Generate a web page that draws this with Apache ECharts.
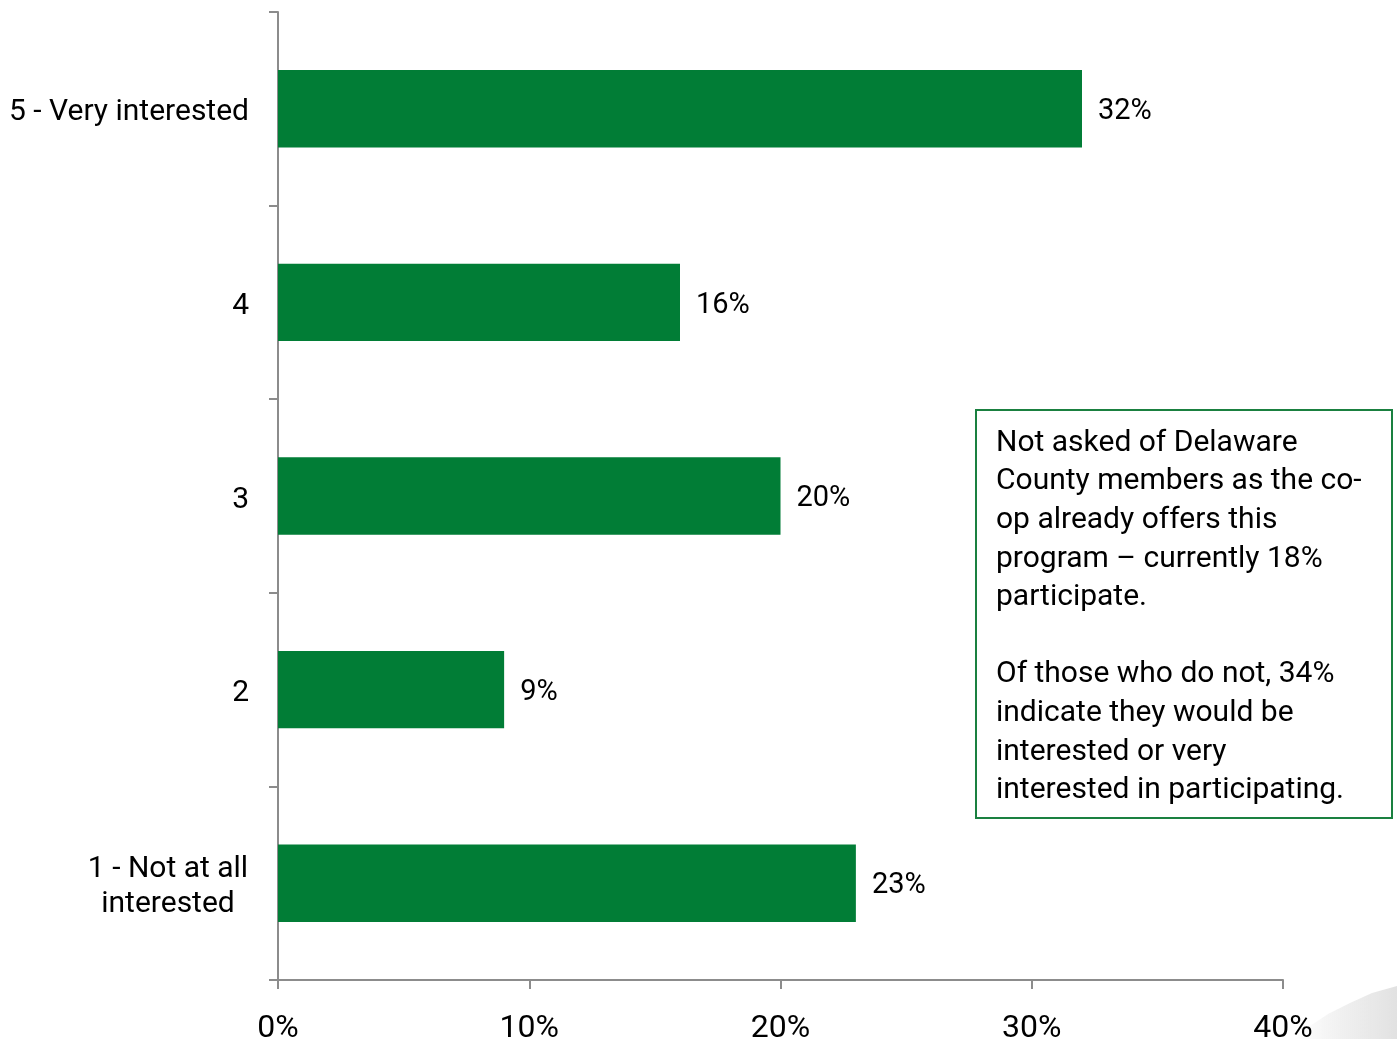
<!DOCTYPE html>
<html><head><meta charset="utf-8">
<script src="https://cdn.jsdelivr.net/npm/echarts@6/dist/echarts.min.js"></script>
<style>html,body{margin:0;padding:0;background:#fff}#c{width:1397px;height:1039px}</style>
</head><body><div id="c"></div>
<script>
const categories = ['1 - Not at all\ninterested', '2', '3', '4', '5 - Very interested'];
const values = [23, 9, 20, 16, 32];
const xTicks = [0, 10, 20, 30, 40];
const noteText = 'Not asked of Delaware\nCounty members as the co-\nop already offers this\nprogram \u2013 currently 18%\nparticipate.\n\nOf those who do not, 34%\nindicate they would be\ninterested or very\ninterested in participating.';

const FONT = 'Roboto, "Liberation Sans", sans-serif';
const chart = echarts.init(document.getElementById('c'));
chart.setOption({
  animation: false,
  grid: {left: 278, right: 114, top: 12, bottom: 59, containLabel: false, outerBoundsMode: 'none'},
  xAxis: {
    type: 'value', min: xTicks[0], max: xTicks[xTicks.length-1], interval: 10,
    axisLine: {show: true, lineStyle: {color: '#8c8c8c', width: 2}},
    axisTick: {show: true, length: 9, lineStyle: {color: '#8c8c8c', width: 2}},
    splitLine: {show: false},
    axisLabel: {formatter: v => v + '%', fontSize: 32, color: '#000', fontFamily: FONT, margin: 33}
  },
  yAxis: {
    type: 'category', data: categories,
    axisLine: {show: true, lineStyle: {color: '#8c8c8c', width: 2}},
    axisTick: {show: true, length: 9, lineStyle: {color: '#8c8c8c', width: 2}},
    axisLabel: {
      fontSize: 30, color: '#000', fontFamily: FONT, margin: 29, align: 'right',
      padding: [8, 0, 0, 0],
      formatter: v => v.indexOf('\n') >= 0 ? v.split('\n').map(s => '{c|' + s + '}').join('\n') : v,
      rich: {c: {width: 162, align: 'center', fontSize: 30, lineHeight: 35, fontFamily: FONT, color: '#000'}}
    }
  },
  series: [{
    type: 'bar', data: values, barWidth: '40%',
    itemStyle: {color: '#017d36'},
    label: {show: true, position: 'right', distance: 16, offset: [0, 3], formatter: p => p.value + '%',
      fontSize: 29, color: '#000', fontFamily: FONT}
  }],
  graphic: [
    {type: 'polygon', silent: true, z: -1,
     shape: {points: [[1295,1039],[1310,1026],[1328,1014],[1350,1003],[1372,993],[1397,986],[1397,1039]]},
     style: {fill: new echarts.graphic.LinearGradient(0, 0, 1, 0, [
       {offset: 0, color: 'rgba(232,232,232,0)'}, {offset: 0.5, color: 'rgba(232,232,232,0.7)'}, {offset: 1, color: 'rgba(225,225,225,1)'}])}},
    {type: 'rect', shape: {x: 976, y: 410, width: 416, height: 408},
     style: {fill: '#fff', stroke: '#1a8040', lineWidth: 2}},
    {type: 'text', left: 996, top: 424,
     style: {text: noteText, fontSize: 30, lineHeight: 38.6, fill: '#000', fontFamily: FONT}}
  ]
});
</script></body></html>
